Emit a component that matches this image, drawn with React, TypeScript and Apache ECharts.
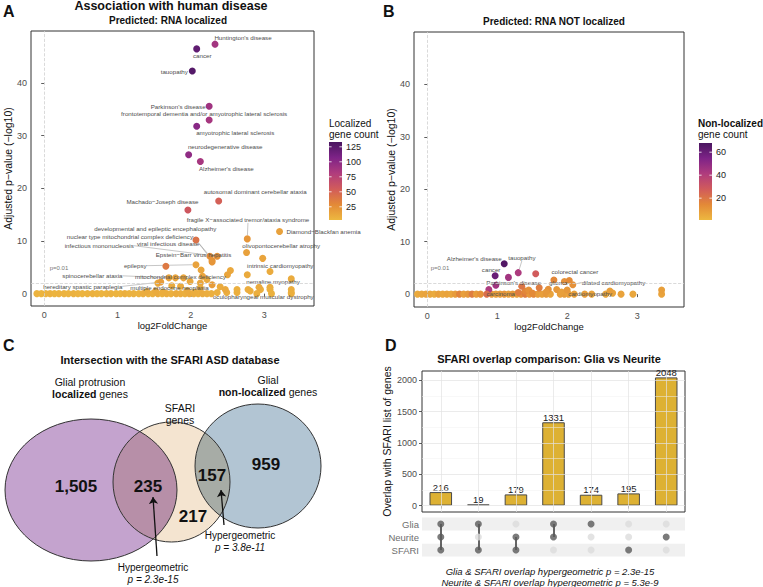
import React, { useEffect, useRef } from "react";
import * as echarts from "echarts";

const FONT = "'Liberation Sans', Arial, Helvetica, sans-serif";
const GRAD = ["#EDB840", "#E38937", "#D15B5B", "#B03C7D", "#7E2387", "#4A1660"];

// ---------------- Panel A: RNA localized ----------------
// [log2FoldChange, -log10 adj p, gene count]
const A_POINTS: [number, number, number][] = [
  [-0.1, 0, 6], [-0.04, 0, 5], [0.02, 0, 6], [0.08, 0, 7], [0.14, 0, 5], [0.2, 0, 6], [0.27, 0, 6], [0.33, 0, 5],
  [0.4, 0, 7], [0.46, 0, 6], [0.52, 0, 5], [0.59, 0, 6], [0.66, 0, 7], [0.72, 0, 6], [0.78, 0, 5], [0.85, 0, 6],
  [0.91, 0, 7], [0.98, 0, 6], [1.04, 0, 5], [1.1, 0, 8], [1.16, 0, 6], [1.22, 0, 7], [1.29, 0, 6], [1.35, 0, 9],
  [1.42, 0, 7], [1.48, 0, 8], [1.55, 0, 10], [1.61, 0, 7], [1.67, 0, 9], [1.73, 0, 8], [1.8, 0, 10], [1.86, 0, 9],
  [1.92, 0, 8], [1.98, 0, 11], [2.04, 0, 9], [2.1, 0, 8], [2.16, 0, 10], [2.22, 0, 9], [2.28, 0, 8],
  [1.4, 0.4, 10], [1.52, 0.5, 10], [1.62, 0.3, 9], [1.95, 0.6, 10], [2.05, 0.3, 9],
  [1.66, 5.2, 38], [2.14, 4.5, 13], [2.54, 4.4, 12], [3.08, 4.2, 10], [2.77, 3.6, 11], [2.16, 3.3, 14],
  [1.7, 3.0, 14], [1.9, 3.0, 13], [3.37, 2.8, 10], [1.99, 2.3, 12], [2.13, 2.0, 13], [2.22, 2.7, 11],
  [1.74, 1.5, 10], [1.86, 1.4, 11], [2.13, 1.1, 10], [2.4, 1.3, 10], [3.08, 1.2, 9], [2.81, 0.5, 8],
  [2.36, 0.2, 8], [2.49, 0.2, 9], [2.63, 0.2, 8], [2.63, 0.8, 8], [2.78, 0.8, 9], [2.95, 0.8, 8],
  [3.08, 0.8, 8], [3.37, 0.8, 9], [3.37, 0.2, 8], [2.9, 0, 8], [3.1, 0, 7], [3.37, 0, 8], [1.55, 2.0, 12],
];
const A_LABELED: [number, number, number, string][] = [
  [2.33, 47.4, 88, "Huntington's disease"],
  [2.08, 46.5, 122, "cancer"],
  [2.02, 42.3, 128, "tauopathy"],
  [2.25, 35.6, 90, "Parkinson's disease"],
  [2.25, 33.0, 86, "frontotemporal dementia and/or amyotrophic lateral sclerosis"],
  [2.08, 31.8, 102, "amyotrophic lateral sclerosis"],
  [1.97, 26.4, 98, "neurodegenerative disease"],
  [2.13, 25.1, 86, "Alzheimer's disease"],
  [2.38, 17.6, 52, "autosomal dominant cerebellar ataxia"],
  [1.96, 15.9, 58, "Machado\u2212Joseph disease"],
  [2.77, 10.4, 22, "fragile X\u2212associated tremor/ataxia syndrome"],
  [3.21, 11.8, 16, "Diamond\u2212Blackfan anemia"],
  [2.07, 10.2, 42, "developmental and epileptic encephalopathy"],
  [2.26, 7.1, 26, "nuclear type mitochondrial complex deficiency"],
  [2.29, 6.3, 24, "viral infectious disease"],
  [2.36, 7.1, 24, "infectious mononucleosis"],
  [2.76, 7.8, 16, "olivopontocerebellar atrophy"],
  [2.29, 6.0, 22, "Epstein\u2212Barr virus hepatitis"],
  [2.98, 6.7, 14, "intrinsic cardiomyopathy"],
  [2.07, 5.5, 15, "epilepsy"],
  [1.79, 3.0, 14, "spinocerebellar ataxia"],
  [2.5, 3.6, 14, "mitochondrial complex deficiency"],
  [2.93, 1.2, 11, "nemaline myopathy"],
  [1.59, 2.2, 18, "hereditary spastic paraplegia"],
  [2.29, 1.7, 18, "multiple endocrine neoplasia"],
  [2.47, 0.8, 12, "oculopharyngeal muscular dystrophy"],
];
const A_LEGEND_TICKS = [25, 50, 75, 100, 125];

// ---------------- Panel B: RNA NOT localized ----------------
const B_POINTS: [number, number, number][] = [
  [-0.2, 0, 6], [-0.14, 0, 5], [-0.08, 0, 6], [-0.02, 0, 7], [0.04, 0, 6], [0.1, 0, 5], [0.16, 0, 8], [0.22, 0, 6],
  [0.28, 0, 7], [0.34, 0, 6], [0.4, 0, 9], [0.46, 0, 16], [0.52, 0, 8], [0.58, 0, 10], [0.64, 0, 18], [0.7, 0, 9],
  [0.76, 0, 12], [0.92, 0, 10], [0.98, 0, 8], [1.04, 0, 9], [1.1, 0, 11], [1.16, 0, 8], [1.22, 0, 10],
  [1.28, 0, 9], [1.34, 0, 12], [1.4, 0, 18], [1.46, 0, 10], [1.52, 0, 16], [1.58, 0, 9], [1.64, 0, 8], [1.7, 0, 10],
  [1.76, 0, 7], [1.9, 0, 8], [1.96, 0, 9], [2.02, 0, 7], [2.1, 0, 8], [2.35, 0, 7], [2.55, 0, 6], [2.77, 0, 7],
  [2.94, 0, 6], [3.35, 0, 7], [3.35, 0.8, 8], [2.65, 0.2, 7], [2.61, 0.6, 8],
  [1.16, 3.2, 45], [1.55, 3.9, 28], [0.98, 1.7, 45], [0.88, 0.9, 42], [1.73, 0.95, 12], [1.96, 2.4, 12],
  [2.03, 2.6, 14], [1.85, 0.9, 10], [1.4, 0.6, 15], [1.45, 0.8, 12], [1.7, 0.4, 10], [1.92, 0.4, 8],
  [2.0, 0.8, 10], [1.3, 0.3, 18], [1.5, 0.2, 14],
];
const B_LABELED: [number, number, number, string][] = [
  [1.1, 5.8, 66, "Alzheimer's disease"],
  [1.3, 4.1, 42, "tauopathy"],
  [0.97, 3.5, 60, "cancer"],
  [1.81, 2.7, 15, "colorectal cancer"],
  [1.35, 1.5, 20, "Parkinson's disease"],
  [1.6, 1.2, 18, "glioma"],
  [2.08, 1.8, 12, "dilated cardiomyopathy"],
  [0.85, 0, 22, "carcinoma"],
  [2.25, 0, 8, "cardiomyopathy"],
];
const B_LEGEND_TICKS = [20, 40, 60];

// label placement (pixel offsets from point) - styling only
const A_OFF: Record<string, [number, number]> = {
  "Huntington's disease": [28, -6.5],
  cancer: [5.5, 7],
  tauopathy: [-18, 0],
  "Parkinson's disease": [-31, 0],
  "frontotemporal dementia and/or amyotrophic lateral sclerosis": [-5, -6.5],
  "amyotrophic lateral sclerosis": [38.5, 6.3],
  "neurodegenerative disease": [36.6, -8.2],
  "Alzheimer's disease": [26, 6.6],
  "autosomal dominant cerebellar ataxia": [36.5, -9.5],
  "Machado\u2212Joseph disease": [-25.4, -8.5],
  "fragile X\u2212associated tremor/ataxia syndrome": [0.7, -19],
  "Diamond\u2212Blackfan anemia": [44, 0],
  "developmental and epileptic encephalopathy": [-40.7, -11.2],
  "nuclear type mitochondrial complex deficiency": [-80, -20],
  "viral infectious disease": [-44, -16.5],
  "infectious mononucleosis": [-118, -10.6],
  "olivopontocerebellar atrophy": [34.7, -6.6],
  "Epstein\u2212Barr virus hepatitis": [-18.6, -7.4],
  "intrinsic cardiomyopathy": [17.6, 7.3],
  epilepsy: [-60.7, 1],
  "spinocerebellar ataxia": [-83, -2],
  "mitochondrial complex deficiency": [-47, 2.3],
  "nemaline myopathy": [14, -6],
  "hereditary spastic paraplegia": [-78, 4.3],
  "multiple endocrine neoplasia": [-42.6, 2.7],
  "oculopharyngeal muscular dystrophy": [38, 7],
};
const A_LINES = new Set([
  "fragile X\u2212associated tremor/ataxia syndrome", "nuclear type mitochondrial complex deficiency",
  "viral infectious disease", "infectious mononucleosis", "epilepsy", "spinocerebellar ataxia",
  "mitochondrial complex deficiency", "hereditary spastic paraplegia", "multiple endocrine neoplasia",
]);
const B_OFF: Record<string, [number, number]> = {
  "Alzheimer's disease": [-30, -5],
  tauopathy: [3.7, -15],
  cancer: [-4, -6.3],
  "colorectal cancer": [21, -8.5],
  "Parkinson's disease": [-8, -4],
  glioma: [19, -5.4],
  "dilated cardiomyopathy": [40.7, -2.3],
  carcinoma: [14, -0.7],
  cardiomyopathy: [5.5, -0.7],
};
const B_LINES = new Set(["tauopathy", "dilated cardiomyopathy"]);

// ---------------- Panel C: Venn ----------------
const VENN_SETS = [
  { name: "localized", cx: 91, cy: 160, rx: 86, ry: 71 },
  { name: "SFARI", cx: 171.5, cy: 152, rx: 58.5, ry: 60 },
  { name: "non-localized", cx: 258, cy: 136, rx: 63, ry: 62 },
];
const VENN_FILLS = ["#C4A3CE", "#F4E4D0", "#B2C5D3"];
const VENN_OVERLAPS: [number, number][] = [[0, 1], [1, 2]];
const VENN_OVERLAP_FILLS = ["#B78FA8", "#A7ACA6"];
const VENN_COUNTS = ["1,505", "235", "157", "959", "217"];
const VENN_ARROWS = [
  { from: [157, 226], to: [153, 167] },
  { from: [224, 195], to: [221, 160] },
];

// ---------------- Panel D: UpSet ----------------
const SETS = ["SFARI", "Neurite", "Glia"];
const SET_BANDS = ["#F0F0F0", "#FFFFFF", "#F0F0F0"];
const COMBOS = [
  ["Glia", "Neurite", "SFARI"], ["Glia", "SFARI"], ["Neurite", "SFARI"], ["Glia", "Neurite"],
  ["Glia"], ["SFARI"], ["Neurite"],
];
const OVERLAP_COUNTS = [216, 19, 179, 1331, 174, 195, 2048];
const D_TICKS = [0, 500, 1000, 1500, 2000];
const D_MINOR = [250, 750, 1250, 1750];

function buildScatterData(points: [number, number, number][], labeled: [number, number, number, string][], lines: Set<string>) {
  const data: any[] = points.map((p) => ({ value: [p[0], p[1], p[2]] }));
  labeled.forEach((p) => {
    data.push({
      name: p[3],
      value: [p[0], p[1], p[2]],
      label: { show: true },
      labelLine: { show: lines.has(p[3]) },
    });
  });
  return data;
}

function txt(text: string, x: number, y: number, o: any = {}) {
  return {
    type: "text",
    silent: true,
    z: 100,
    style: {
      text, x, y,
      fill: o.fill || "#111",
      fontSize: o.fontSize || 10,
      fontWeight: o.fontWeight || "normal",
      fontStyle: o.fontStyle || "normal",
      fontFamily: FONT,
      align: o.align || "center",
      verticalAlign: "middle",
      textAlign: o.align || "center",
      textVerticalAlign: "middle",
      rich: o.rich,
    },
  };
}

function colorbar(x: number, top: number, h: number, min: number, max: number, ticks: number[]) {
  const els: any[] = [];
  const stops = GRAD.slice().reverse().map((c, i) => ({ offset: i / (GRAD.length - 1), color: c }));
  els.push({
    type: "rect", silent: true, z: 100,
    shape: { x, y: top, width: 13, height: h },
    style: { fill: new echarts.graphic.LinearGradient(0, 0, 0, 1, stops) },
  });
  ticks.forEach((t) => {
    const y = top + ((max - t) / (max - min)) * h;
    els.push({ type: "line", silent: true, z: 101, shape: { x1: x, y1: y, x2: x + 2.6, y2: y }, style: { stroke: "#fff", lineWidth: 0.8 } });
    els.push({ type: "line", silent: true, z: 101, shape: { x1: x + 10.4, y1: y, x2: x + 13, y2: y }, style: { stroke: "#fff", lineWidth: 0.8 } });
    els.push(txt(String(t), x + 17, y, { align: "left", fontSize: 9, fill: "#222" }));
  });
  return els;
}

function ellipsePts(api: any, e: any, n = 360) {
  const c = api.coord([e.cx, e.cy]);
  const s = api.size([e.rx, e.ry]);
  const pts: number[][] = [];
  for (let k = 0; k < n; k++) {
    const t = (2 * Math.PI * k) / n;
    pts.push([c[0] + s[0] * Math.cos(t), c[1] + s[1] * Math.sin(t)]);
  }
  return { pts, c, s };
}
function arcInside(pts: number[][], c: number[], s: number[]) {
  const n = pts.length;
  const flags = pts.map((p) => ((p[0] - c[0]) / s[0]) ** 2 + ((p[1] - c[1]) / s[1]) ** 2 <= 1);
  let start = -1;
  for (let k = 0; k < n; k++) {
    if (flags[k] && !flags[(k - 1 + n) % n]) { start = k; break; }
  }
  const out: number[][] = [];
  if (start < 0) return out;
  for (let k = 0; k < n; k++) {
    const i = (start + k) % n;
    if (!flags[i]) break;
    out.push(pts[i]);
  }
  return out;
}

function buildOption() {
  const axisLabelStyle = { color: "#4D4D4D", fontSize: 9, fontFamily: FONT };
  const tickStyle = { color: "#333", width: 0.8 };
  const aData = buildScatterData(A_POINTS, A_LABELED, A_LINES);
  const bData = buildScatterData(B_POINTS, B_LABELED, B_LINES);

  const volcanoAxes = (gi: number, xmin: number, xmax: number, ymin: number, ymax: number, yGap: number) => ({
    x: {
      gridIndex: gi, type: "value", min: xmin, max: xmax,
      axisLine: { show: false },
      axisTick: { show: true, length: 3, lineStyle: tickStyle, customValues: [0, 1, 2, 3] },
      axisLabel: { ...axisLabelStyle, margin: 4, customValues: [0, 1, 2, 3] },
      splitLine: { show: false },
      name: "log2FoldChange", nameLocation: "middle", nameGap: 14,
      nameTextStyle: { fontSize: 9.5, color: "#111", fontFamily: FONT },
    },
    y: {
      gridIndex: gi, type: "value", min: ymin, max: ymax,
      axisLine: { show: false },
      axisTick: { show: true, length: 3, lineStyle: tickStyle, customValues: [0, 10, 20, 30, 40] },
      axisLabel: { ...axisLabelStyle, margin: 4, customValues: [0, 10, 20, 30, 40] },
      splitLine: { show: false },
      name: "Adjusted p\u2212value (\u2212log10)", nameLocation: "middle", nameGap: yGap,
      nameTextStyle: { fontSize: 10.5, color: "#111", fontFamily: FONT },
    },
  });
  const va = volcanoAxes(0, -0.18, 3.68, -2.35, 49.9, 13);
  const vb = volcanoAxes(1, -0.19, 3.67, -2.45, 50.0, 14);

  const refLines = (gi: number) => ({
    type: "line", xAxisIndex: gi, yAxisIndex: gi, data: [], silent: true, z: 1,
    markLine: {
      silent: true, symbol: "none", animation: false, label: { show: false },
      lineStyle: { type: "dashed", color: "#D0D0D0", width: 0.8 },
      data: [{ xAxis: 0 }, { yAxis: 2 }],
    },
  });

  const volcanoSeries = (gi: number, data: any[], off: Record<string, [number, number]>) => ({
    type: "scatter", xAxisIndex: gi, yAxisIndex: gi, data, symbolSize: 7, z: 3,
    itemStyle: { opacity: 1 },
    label: { show: false, formatter: "{b}", position: "inside", fontSize: 6.2, color: "#4D4D4D", fontFamily: FONT },
    labelLine: { show: false, lineStyle: { color: "#8C8C8C", width: 0.5 } },
    labelLayout: (params: any) => {
      const d = data[params.dataIndex];
      const o = d && d.name ? off[d.name] : null;
      return o ? { dx: o[0], dy: o[1] } : {};
    },
  });

  // UpSet matrix
  const activeDots: number[][] = [];
  const inactiveDots: number[][] = [];
  const matrixLines: any[] = [];
  COMBOS.forEach((combo, ci) => {
    const rows: number[] = [];
    SETS.forEach((s, si) => {
      if (combo.includes(s)) { activeDots.push([ci, si]); rows.push(si); } else inactiveDots.push([ci, si]);
    });
    if (rows.length > 1) matrixLines.push({ coords: [[ci, Math.min(...rows)], [ci, Math.max(...rows)]] });
  });
  const comboNames = COMBOS.map((c) => c.join(" & "));

  const graphic: any[] = [
    txt("A", 3, 11, { fontSize: 16, fontWeight: "bold", align: "left" }),
    txt("B", 383, 11, { fontSize: 16, fontWeight: "bold", align: "left" }),
    txt("C", 3, 345, { fontSize: 16, fontWeight: "bold", align: "left" }),
    txt("D", 385, 345, { fontSize: 16, fontWeight: "bold", align: "left" }),
    txt("Association with human disease", 171, 6, { fontSize: 12.5, fontWeight: "bold" }),
    txt("Predicted: RNA localized", 168, 20, { fontSize: 10, fontWeight: "bold" }),
    txt("Predicted: RNA NOT localized", 554, 21, { fontSize: 10, fontWeight: "bold" }),
    txt("Localized", 329, 123, { fontSize: 10, align: "left" }),
    txt("gene count", 329, 134, { fontSize: 10, align: "left" }),
    txt("Non-localized", 698, 123, { fontSize: 10, fontWeight: "bold", align: "left" }),
    txt("gene count", 698, 134, { fontSize: 10, align: "left" }),
    txt("p=0.01", 59, 268, { fontSize: 6, fill: "#777" }),
    txt("p=0.01", 440, 268, { fontSize: 6, fill: "#777" }),
    ...colorbar(329, 142, 78, 3, 133, A_LEGEND_TICKS),
    ...colorbar(699, 143, 77, 1, 68, B_LEGEND_TICKS),
    // Venn text
    txt("Intersection with the SFARI ASD database", 170, 360, { fontSize: 11, fontWeight: "bold" }),
    txt("Glial protrusion", 90, 382, { fontSize: 10.5 }),
    txt("{b|localized} genes", 90, 394, { fontSize: 10.5, rich: { b: { fontWeight: "bold", fontSize: 10.5, fontFamily: FONT } } }),
    txt("SFARI", 180, 408, { fontSize: 10.5 }),
    txt("genes", 180, 420, { fontSize: 10.5 }),
    txt("Glial", 268, 380, { fontSize: 10.5 }),
    txt("{b|non-localized} genes", 268, 392, { fontSize: 10.5, rich: { b: { fontWeight: "bold", fontSize: 10.5, fontFamily: FONT } } }),
    txt(VENN_COUNTS[0], 76, 486, { fontSize: 17, fontWeight: "bold" }),
    txt(VENN_COUNTS[1], 148, 486, { fontSize: 17, fontWeight: "bold" }),
    txt(VENN_COUNTS[2], 212, 475, { fontSize: 17, fontWeight: "bold" }),
    txt(VENN_COUNTS[3], 266, 464, { fontSize: 17, fontWeight: "bold" }),
    txt(VENN_COUNTS[4], 193, 516, { fontSize: 17, fontWeight: "bold" }),
    txt("Hypergeometric", 153, 567, { fontSize: 10 }),
    txt("p = 2.3e-15", 153, 579, { fontSize: 10, fontStyle: "italic" }),
    txt("Hypergeometric", 240, 535, { fontSize: 10 }),
    txt("p = 3.8e-11", 240, 547, { fontSize: 10, fontStyle: "italic" }),
    // D text
    txt("SFARI overlap comparison: Glia vs Neurite", 549, 359, { fontSize: 11, fontWeight: "bold" }),
    txt("Glia & SFARI overlap hypergeometric p = 2.3e-15", 550, 571, { fontSize: 9.5, fontStyle: "italic" }),
    txt("Neurite & SFARI overlap hypergeometric p = 5.3e-9", 550, 582, { fontSize: 9.5, fontStyle: "italic" }),
  ];

  return {
    animation: false,
    backgroundColor: "#fff",
    textStyle: { fontFamily: FONT },
    grid: [
      { left: 31, top: 31, width: 283, height: 275, show: true, borderColor: "#333", borderWidth: 1, backgroundColor: "transparent" },
      { left: 414, top: 32, width: 270, height: 275, show: true, borderColor: "#333", borderWidth: 1, backgroundColor: "transparent" },
      { left: 422, top: 371, width: 263, height: 141, show: true, borderColor: "#333", borderWidth: 1, backgroundColor: "transparent" },
      { left: 422, top: 517.5, width: 263, height: 39 },
      { left: 0, top: 330, width: 330, height: 257 },
    ],
    xAxis: [
      va.x, vb.x,
      {
        gridIndex: 2, type: "category", data: comboNames,
        axisLine: { show: false },
        axisTick: { show: true, alignWithLabel: true, length: 3, lineStyle: tickStyle },
        axisLabel: { show: false }, splitLine: { show: false },
      },
      { gridIndex: 3, type: "category", data: comboNames, show: false },
      { gridIndex: 4, type: "value", min: 0, max: 330, show: false },
    ],
    yAxis: [
      va.y, vb.y,
      {
        gridIndex: 2, type: "value", min: -102, max: 2150,
        axisLine: { show: false },
        axisTick: { show: true, length: 3, lineStyle: tickStyle, customValues: D_TICKS },
        axisLabel: { ...axisLabelStyle, margin: 5, customValues: D_TICKS, formatter: (v: number) => String(v) },
        splitLine: { show: false },
        name: "Overlap with SFARI list of genes", nameLocation: "middle", nameGap: 30,
        nameTextStyle: { fontSize: 10.5, color: "#111", fontFamily: FONT },
      },
      {
        gridIndex: 3, type: "category", data: SETS,
        axisLine: { show: false }, axisTick: { show: false },
        axisLabel: { color: "#6E6E6E", fontSize: 9.5, margin: 3, fontFamily: FONT, interval: 0 },
        splitLine: { show: false },
      },
      { gridIndex: 4, type: "value", min: 0, max: 257, inverse: true, show: false },
    ],
    visualMap: [
      { type: "continuous", show: false, seriesIndex: 1, dimension: 2, min: 3, max: 133, inRange: { color: GRAD } },
      { type: "continuous", show: false, seriesIndex: 3, dimension: 2, min: 1, max: 68, inRange: { color: GRAD } },
    ],
    graphic,
    series: [
      refLines(0),
      volcanoSeries(0, aData, A_OFF),
      refLines(1),
      volcanoSeries(1, bData, B_OFF),
      {
        type: "line", xAxisIndex: 2, yAxisIndex: 2, data: [], silent: true, z: 1,
        markLine: {
          silent: true, symbol: "none", animation: false, label: { show: false },
          data: [
            ...D_TICKS.map((v) => ({ yAxis: v, lineStyle: { color: "#E3E3E3", width: 0.7, type: "solid" } })),
            ...D_MINOR.map((v) => ({ yAxis: v, lineStyle: { color: "#F1F1F1", width: 0.5, type: "solid" } })),
            ...comboNames.map((c) => ({ xAxis: c, lineStyle: { color: "#E3E3E3", width: 0.7, type: "solid" } })),
          ],
        },
      },
      {
        type: "bar", xAxisIndex: 2, yAxisIndex: 2, data: OVERLAP_COUNTS, barWidth: "60%", z: 3,
        itemStyle: { color: "#DDB133", borderColor: "#4A4A4A", borderWidth: 1 },
        label: { show: true, position: "top", distance: 0, fontSize: 9.5, color: "#1A1A1A", fontFamily: FONT },
      },
      {
        type: "custom", xAxisIndex: 3, yAxisIndex: 3, z: 0, silent: true,
        data: SETS.map((s, i) => [0, i]),
        encode: { x: 0, y: 1 },
        renderItem: (params: any, api: any) => {
          const i = params.dataIndex;
          const y = api.coord([0, i])[1];
          const h = api.size([0, 1])[1];
          const cs = params.coordSys;
          return { type: "rect", shape: { x: cs.x, y: y - h / 2, width: cs.width, height: h }, style: { fill: SET_BANDS[i] } };
        },
      },
      {
        type: "lines", coordinateSystem: "cartesian2d", xAxisIndex: 3, yAxisIndex: 3, z: 2,
        data: matrixLines, lineStyle: { color: "#333", width: 1.5, opacity: 1 }, silent: true,
      },
      {
        type: "scatter", xAxisIndex: 3, yAxisIndex: 3, data: inactiveDots, symbolSize: 7, z: 3,
        itemStyle: { color: "#DCDCDC" }, silent: true,
      },
      {
        type: "scatter", xAxisIndex: 3, yAxisIndex: 3, data: activeDots, symbolSize: 7, z: 4,
        itemStyle: { color: "#5A5A5A" }, silent: true,
      },
      {
        type: "custom", xAxisIndex: 4, yAxisIndex: 4, z: 1, silent: true,
        data: VENN_SETS.map((v) => [v.cx, v.cy]),
        encode: { x: 0, y: 1 },
        renderItem: (params: any, api: any) => {
          const e = VENN_SETS[params.dataIndex];
          const c = api.coord([e.cx, e.cy]);
          const s = api.size([e.rx, e.ry]);
          return { type: "ellipse", shape: { cx: c[0], cy: c[1], rx: s[0], ry: s[1] }, style: { fill: VENN_FILLS[params.dataIndex], stroke: "none" } };
        },
      },
      {
        type: "custom", xAxisIndex: 4, yAxisIndex: 4, z: 2, silent: true,
        data: VENN_OVERLAPS.map((p) => [p[0], p[1]]),
        encode: { x: 0, y: 1 },
        renderItem: (params: any, api: any) => {
          const [i, j] = VENN_OVERLAPS[params.dataIndex];
          const a = ellipsePts(api, VENN_SETS[i]);
          const b = ellipsePts(api, VENN_SETS[j]);
          const poly = arcInside(a.pts, b.c, b.s).concat(arcInside(b.pts, a.c, a.s));
          return { type: "polygon", shape: { points: poly }, style: { fill: VENN_OVERLAP_FILLS[params.dataIndex], stroke: "none" } };
        },
      },
      {
        type: "custom", xAxisIndex: 4, yAxisIndex: 4, z: 3, silent: true,
        data: VENN_SETS.map((v) => [v.cx, v.cy]),
        encode: { x: 0, y: 1 },
        renderItem: (params: any, api: any) => {
          const e = VENN_SETS[params.dataIndex];
          const c = api.coord([e.cx, e.cy]);
          const s = api.size([e.rx, e.ry]);
          return { type: "ellipse", shape: { cx: c[0], cy: c[1], rx: s[0], ry: s[1] }, style: { fill: "none", stroke: "#333", lineWidth: 1 } };
        },
      },
      {
        type: "lines", coordinateSystem: "cartesian2d", xAxisIndex: 4, yAxisIndex: 4, z: 4, silent: true,
        symbol: ["none", "arrow"], symbolSize: [0, 7],
        lineStyle: { color: "#111", width: 1.3, opacity: 1 },
        data: VENN_ARROWS.map((a) => ({ coords: [a.from, a.to] })),
      },
    ],
  };
}

export default function App() {
  const ref = useRef<HTMLDivElement>(null);
  useEffect(() => {
    document.body.style.margin = "0";
    const chart = echarts.init(ref.current!, null, { renderer: "svg" });
    chart.setOption(buildOption() as any);
    return () => chart.dispose();
  }, []);
  return <div ref={ref} style={{ width: 763, height: 587 }} />;
}
